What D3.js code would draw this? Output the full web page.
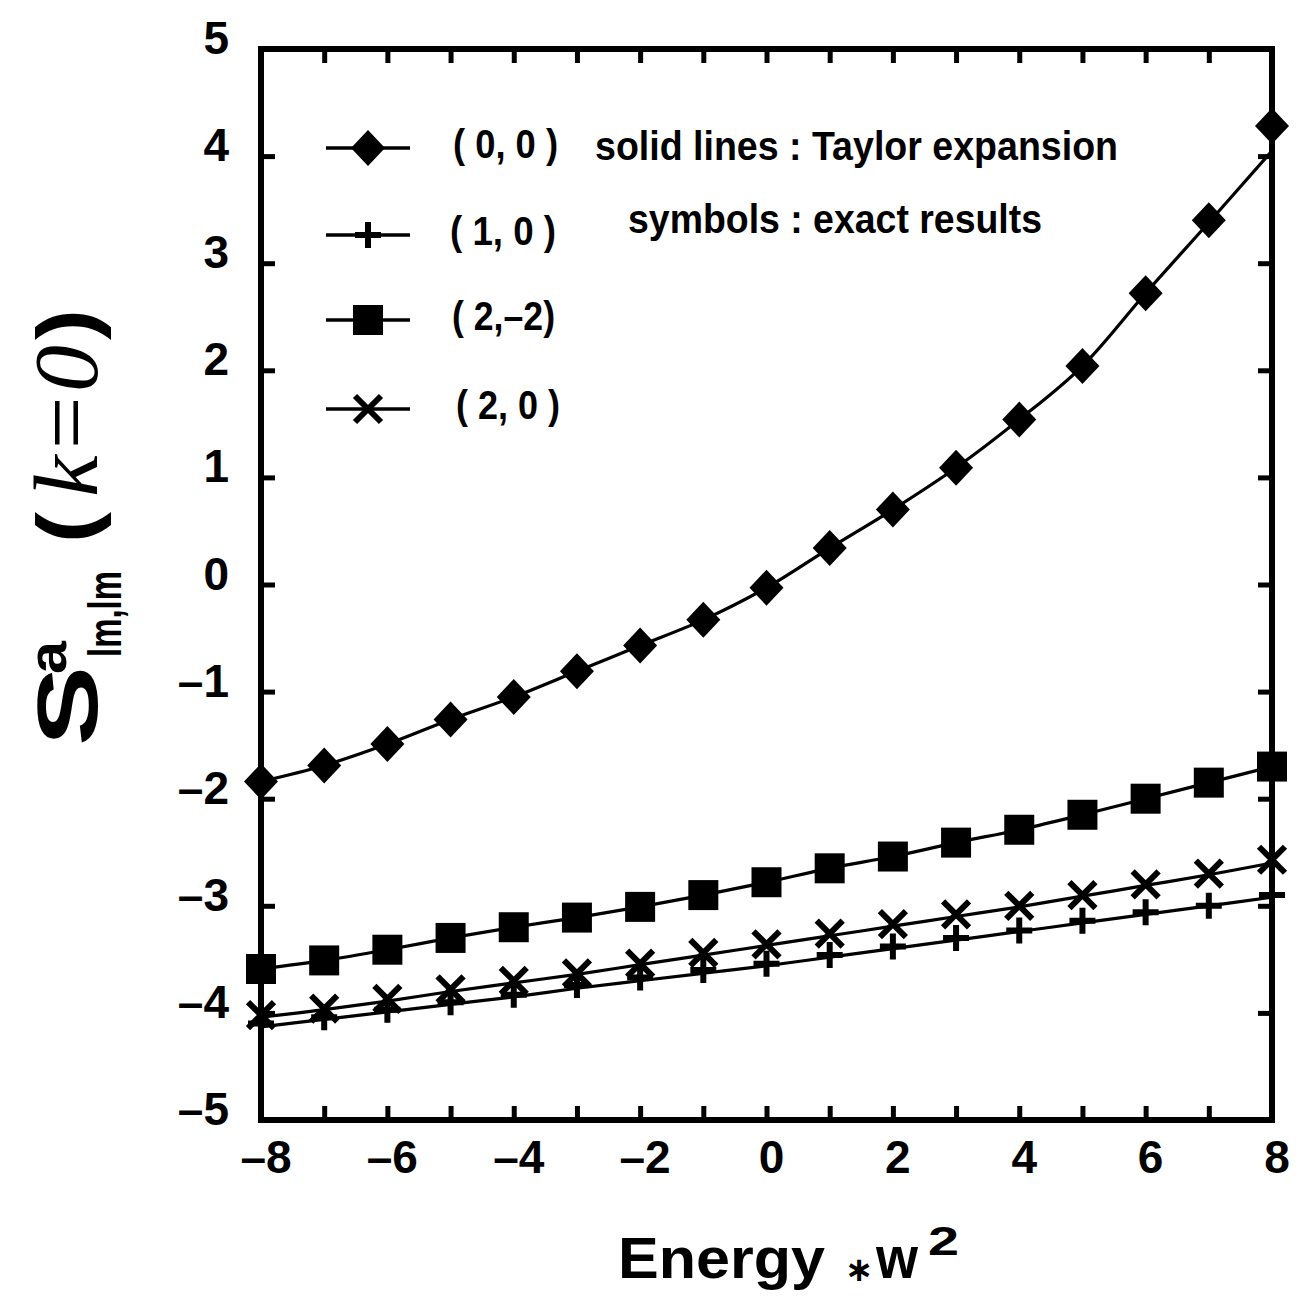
<!DOCTYPE html>
<html><head><meta charset="utf-8">
<script src="https://cdn.jsdelivr.net/npm/d3@7"></script>
<style>body{margin:0;background:#fff}svg{display:block}</style>
</head><body>
<svg id="c" width="1298" height="1296"></svg>
<script>
// ---- data ----
const energy = [-8,-7,-6,-5,-4,-3,-2,-1,0,1,2,3,4,5,6,7,8];
// symbols : exact results
const exact00  = [-1.84,-1.69,-1.49,-1.26,-1.05,-0.81,-0.57,-0.33,-0.03,0.34,0.70,1.09,1.54,2.04,2.72,3.40,4.28];
const exact10  = [-4.10,-4.04,-3.97,-3.90,-3.83,-3.74,-3.67,-3.60,-3.54,-3.46,-3.38,-3.30,-3.23,-3.14,-3.06,-3.00,-2.90];
const exact2m2 = [-3.59,-3.51,-3.41,-3.30,-3.20,-3.11,-3.01,-2.90,-2.78,-2.65,-2.54,-2.41,-2.29,-2.15,-2.00,-1.85,-1.70];
const exact20  = [-4.02,-3.96,-3.87,-3.78,-3.70,-3.63,-3.54,-3.44,-3.36,-3.26,-3.17,-3.08,-3.00,-2.90,-2.80,-2.70,-2.57];
// solid lines : Taylor expansion
const taylor00  = [-1.84,-1.69,-1.49,-1.26,-1.05,-0.81,-0.57,-0.33,-0.03,0.34,0.70,1.09,1.54,2.04,2.72,3.38,4.05];
const taylor10  = [-4.13,-4.06,-3.99,-3.92,-3.85,-3.77,-3.70,-3.63,-3.56,-3.48,-3.40,-3.32,-3.24,-3.16,-3.08,-3.00,-2.92];
const taylor2m2 = [-3.59,-3.51,-3.41,-3.30,-3.20,-3.11,-3.01,-2.90,-2.78,-2.65,-2.54,-2.41,-2.29,-2.15,-2.00,-1.85,-1.70];
const taylor20  = [-4.04,-3.97,-3.89,-3.80,-3.72,-3.64,-3.55,-3.46,-3.37,-3.28,-3.19,-3.10,-3.01,-2.91,-2.81,-2.71,-2.60];
const seriesNames = ["( 0, 0 )","( 1, 0 )","( 2,\u20132)","( 2, 0 )"];
const seriesSymbols = ["diamond","plus","square","cross"];
const xTickValues = [-8,-7,-6,-5,-4,-3,-2,-1,0,1,2,3,4,5,6,7,8];
const xTickLabels = [-8,-6,-4,-2,0,2,4,6,8];
const yTickValues = [-5,-4,-3,-2,-1,0,1,2,3,4,5];
const noteLines = ["solid lines : Taylor expansion","symbols : exact results"];

// ---- layout ----
const L = 261, R = 1272, T = 49, B = 1120;
const svg = d3.select("#c");
const x = d3.scaleLinear().domain([-8,8]).range([L,R]);
const y = d3.scaleLinear().domain([-5,5]).range([B,T]);
const fmt = d => d < 0 ? "\u2013" + Math.abs(d) : String(d);
const FONT = "'Liberation Sans', Arial, Helvetica, sans-serif";

// symbol types
const symDiamond = {draw(c, s){ const w=17, h=18; c.moveTo(0,-h); c.lineTo(w,0); c.lineTo(0,h); c.lineTo(-w,0); c.closePath(); }};
const symSquare  = {draw(c, s){ const a=15; c.rect(-a,-a,2*a,2*a); }};
const symPlus    = {draw(c, s){ const a=13; c.moveTo(-a,0); c.lineTo(a,0); c.moveTo(0,-a); c.lineTo(0,a); }};
const symCross   = {draw(c, s){ const a=13; c.moveTo(-a,-a); c.lineTo(a,a); c.moveTo(a,-a); c.lineTo(-a,a); }};
const symMap = {diamond: symDiamond, square: symSquare, plus: symPlus, cross: symCross};
function styleSym(sel, kind){
  if (kind === "diamond" || kind === "square") sel.attr("fill","#000").attr("stroke","none");
  else sel.attr("fill","none").attr("stroke","#000").attr("stroke-width",6);
}

// axes (inward ticks on all four sides)
const tk = 14;
const styleAxis = g => { g.select(".domain").remove(); g.selectAll("line").attr("stroke","#000").attr("stroke-width",5); };
svg.append("g").attr("transform",`translate(0,${B})`)
  .call(d3.axisBottom(x).tickValues(xTickValues).tickSize(-tk).tickFormat("")).call(styleAxis);
svg.append("g").attr("transform",`translate(0,${T})`)
  .call(d3.axisTop(x).tickValues(xTickValues).tickSize(-tk).tickFormat("")).call(styleAxis);
svg.append("g").attr("transform",`translate(${L},0)`)
  .call(d3.axisLeft(y).tickValues(yTickValues).tickSize(-tk).tickFormat("")).call(styleAxis);
svg.append("g").attr("transform",`translate(${R},0)`)
  .call(d3.axisRight(y).tickValues(yTickValues).tickSize(-tk).tickFormat("")).call(styleAxis);

// frame
svg.append("rect").attr("x",L).attr("y",T).attr("width",R-L).attr("height",B-T)
  .attr("fill","none").attr("stroke","#000").attr("stroke-width",6);

// tick labels
svg.append("g").selectAll("text").data(xTickLabels).join("text")
  .attr("x", d => x(d) + 5).attr("y", 1173).attr("text-anchor","middle")
  .attr("font-family",FONT).attr("font-weight","bold").attr("font-size",46)
  .text(fmt);
svg.append("g").selectAll("text").data(yTickValues).join("text")
  .attr("x", 229).attr("y", d => y(d) + 5).attr("text-anchor","end")
  .attr("font-family",FONT).attr("font-weight","bold").attr("font-size",46)
  .text(fmt);

// lines
const taylor = [taylor00, taylor10, taylor2m2, taylor20];
const exact = [exact00, exact10, exact2m2, exact20];
const line = d3.line().x((d,i)=>x(energy[i])).y(d=>y(d)).curve(d3.curveCatmullRom.alpha(0.5));
svg.append("g").selectAll("path").data(taylor).join("path")
  .attr("d", line).attr("fill","none").attr("stroke","#000").attr("stroke-width",3.2);

// symbols
exact.forEach((ser, k) => {
  const kind = seriesSymbols[k];
  const g = svg.append("g");
  g.selectAll("path").data(ser).join("path")
    .attr("transform",(d,i)=>`translate(${x(energy[i])},${y(d)})`)
    .attr("d", d3.symbol().type(symMap[kind])())
    .call(s => styleSym(s, kind));
});

// legend
const legendRows = [148, 235, 320, 409];
const legendTextX = [453, 450, 452, 456];
const legendTextW = [105, 106, 103, 104];
const lg = svg.append("g");
seriesNames.forEach((name, k) => {
  const yy = legendRows[k];
  lg.append("line").attr("x1",326).attr("x2",410).attr("y1",yy).attr("y2",yy)
    .attr("stroke","#000").attr("stroke-width",3.5);
  lg.append("path").attr("transform",`translate(368,${yy})`)
    .attr("d", d3.symbol().type(symMap[seriesSymbols[k]])())
    .call(s => styleSym(s, seriesSymbols[k]));
  lg.append("text").attr("x", legendTextX[k]).attr("y", yy + 10)
    .attr("font-family",FONT).attr("font-weight","bold").attr("font-size",40)
    .attr("textLength", legendTextW[k]).attr("lengthAdjust","spacingAndGlyphs")
    .text(name);
});
const noteX = [595, 628], noteY = [160, 233], noteW = [523, 414];
noteLines.forEach((t,i) => {
  lg.append("text").attr("x", noteX[i]).attr("y", noteY[i])
    .attr("font-family",FONT).attr("font-weight","bold").attr("font-size",40)
    .attr("textLength", noteW[i]).attr("lengthAdjust","spacingAndGlyphs")
    .text(t);
});

// x axis title
const xt = svg.append("g").attr("font-family",FONT).attr("font-weight","bold");
xt.append("text").attr("x",618).attr("y",1278).attr("font-size",58)
  .attr("textLength",207).attr("lengthAdjust","spacingAndGlyphs").text("Energy");
xt.append("text").attr("x",845).attr("y",1281).attr("font-size",34)
  .attr("font-family","'DejaVu Sans', sans-serif").text("\u2217");
xt.append("text").attr("x",876).attr("y",1278).attr("font-size",60)
  .attr("textLength",42).attr("lengthAdjust","spacingAndGlyphs").text("w");
xt.append("text").attr("x",928).attr("y",1255).attr("font-size",40)
  .attr("textLength",31).attr("lengthAdjust","spacingAndGlyphs").text("2");

// y axis title (rotated pieces)
function rotText(sx, sy, size, txt, len, extra){
  const t = svg.append("text").attr("transform",`translate(${sx},${sy}) rotate(-90)`)
    .attr("font-size",size).text(txt);
  if (len) t.attr("textLength",len).attr("lengthAdjust","spacingAndGlyphs");
  (extra||(()=>{}))(t);
  return t;
}
const bold = t => t.attr("font-family",FONT).attr("font-weight","bold");
rotText(97, 746, 86, "S", 80, bold);
rotText(66, 674, 54, "a", 33, bold);
rotText(121, 657, 46, "lm,lm", 86, bold);
rotText(94, 543, 82, "(", 31, bold);
rotText(97, 497, 92, "k=0", 152, t => t.attr("font-family","'Liberation Serif','Times New Roman',serif").attr("font-style","italic"));
rotText(94, 340, 82, ")", 31, bold);
</script>
</body></html>
